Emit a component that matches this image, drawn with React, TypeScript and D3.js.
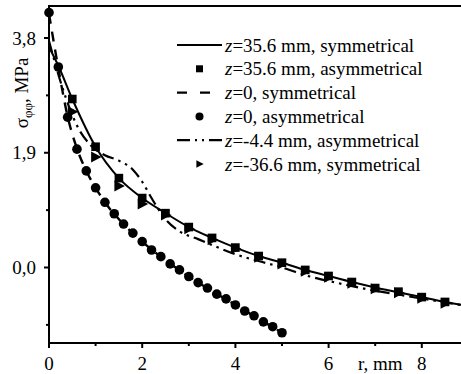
import React from 'react';
import * as d3 from 'd3';

// z=35.6 mm, symmetrical (solid line)
const solidR = [0, 0.2, 0.5, 1.0, 1.5, 2.0, 2.5, 3.0, 3.5, 4.0, 4.5, 5.0, 5.5, 6.0, 6.5, 7.0, 7.5, 8.0, 8.5, 9.0];
const solidS = [3.65, 3.34, 2.79, 2.0, 1.48, 1.15, 0.9, 0.67, 0.49, 0.33, 0.19, 0.08, -0.04, -0.14, -0.24, -0.33, -0.41, -0.49, -0.57, -0.64];

// z=35.6 mm, asymmetrical (squares)
const squareR = [0.5, 1.0, 1.5, 2.0, 2.5, 3.0, 3.5, 4.0, 4.5, 5.0, 5.5, 6.0, 6.5, 7.0, 7.5, 8.0, 8.5];
const squareS = [2.79, 2.0, 1.48, 1.15, 0.9, 0.67, 0.49, 0.33, 0.19, 0.08, -0.04, -0.14, -0.24, -0.34, -0.4, -0.49, -0.57];

// z=0, symmetrical (dashed line)
const dashR = [0, 0.2, 0.4, 0.6, 0.8, 1.0, 1.2, 1.5, 2.0, 2.5, 3.0, 3.5, 4.0, 4.5, 5.0];
const dashS = [4.2, 3.3, 2.5, 1.97, 1.6, 1.32, 1.08, 0.8, 0.43, 0.12, -0.15, -0.39, -0.62, -0.85, -1.08];

// z=0, asymmetrical (circles)
const circleR = [0, 0.2, 0.4, 0.6, 0.8, 1.0, 1.2, 1.4, 1.6, 1.8, 2.0, 2.2, 2.4, 2.6, 2.8, 3.0, 3.2, 3.4, 3.6, 3.8, 4.0, 4.2, 4.4, 4.6, 4.8, 5.0];
const circleS = [4.22, 3.32, 2.49, 1.96, 1.6, 1.32, 1.08, 0.89, 0.72, 0.57, 0.43, 0.29, 0.18, 0.06, -0.04, -0.15, -0.25, -0.34, -0.44, -0.52, -0.62, -0.72, -0.8, -0.9, -0.98, -1.08];

// z=-4.4 mm, asymmetrical (dash-dot line)
const dotDashR = [0, 0.3, 0.6, 0.9, 1.2, 1.5, 1.8, 2.0, 2.2, 2.5, 2.8, 3.2, 4.0, 5.0, 5.6, 6.1, 6.9, 7.5, 8.2, 9.0];
const dotDashS = [3.75, 2.95, 2.35, 2.02, 1.86, 1.77, 1.62, 1.42, 1.15, 0.8, 0.6, 0.47, 0.22, 0.0, -0.15, -0.24, -0.37, -0.45, -0.54, -0.64];

// z=-36.6 mm, symmetrical (triangles)
const triR = [0.5, 1.0, 1.5, 2.0, 2.5, 3.0, 3.5, 4.0, 4.5, 5.0, 5.5, 6.0, 6.5, 7.0, 7.5, 8.0, 8.5];
const triS = [2.58, 1.83, 1.35, 1.05, 0.87, 0.64, 0.46, 0.31, 0.17, 0.06, -0.06, -0.16, -0.26, -0.35, -0.42, -0.51, -0.59];

const yMajor = [0, 1.9, 3.8];
const yMinor = [-0.95, 0.95, 2.85];
const xMajor = [0, 2, 4, 6, 8];
const xMinor = [1, 3, 5, 7];

const legendLabels = [
  ['=35.6 mm, symmetrical', 'solid'],
  ['=35.6 mm, asymmetrical', 'square'],
  ['=0, symmetrical', 'dash'],
  ['=0, asymmetrical', 'circle'],
  ['=-4.4 mm, asymmetrical', 'dotdash'],
  ['=-36.6 mm, symmetrical', 'tri'],
];

const W = 461;
const H = 374;
const left = 49;
const top = 6;
const bottom = 343;
const tStyle = { fontFamily: 'Tinos, Liberation Serif, FreeSerif, serif' };

const x = d3.scaleLinear().domain([0, 9]).range([left, left + 9 * 46.6]);
const y = d3.scaleLinear().domain([-1.25, 4.33]).range([bottom, top]);

const zip = (rs: number[], ss: number[]) => rs.map((r, i) => [r, ss[i]] as [number, number]);

const lineGen = d3.line<[number, number]>()
  .x(d => x(d[0]))
  .y(d => y(d[1]))
  .curve(d3.curveMonotoneX);

const fmt = (v: number) => v.toFixed(1).replace('.', ',');

const triPath = (cx: number, cy: number, s: number) =>
  `M${cx - s * 0.45},${cy - s * 0.55}L${cx + s * 0.6},${cy}L${cx - s * 0.45},${cy + s * 0.55}Z`;

export default function App() {
  const legX = 177;
  const legY0 = 45;
  const legStep = 23.8;

  return (
    <svg width={W} height={H} style={{ position: 'absolute', left: 0, top: 0, background: '#fff' }}>
      <defs>
        <clipPath id="plot">
          <rect x={left} y={top} width={W - left} height={bottom - top} />
        </clipPath>
      </defs>

      <g clipPath="url(#plot)" fill="none" stroke="#000">
        <path d={lineGen(zip(dashR, dashS)) || ''} strokeWidth={2.4} strokeDasharray="10,8" />
        <path d={lineGen(zip(dotDashR, dotDashS)) || ''} strokeWidth={2.2} strokeDasharray="12,5,2.5,5,2.5,5" />
        <path d={lineGen(zip(solidR, solidS)) || ''} strokeWidth={2} />
      </g>

      <g fill="#000">
        {zip(circleR, circleS).map((d, i) => (
          <circle key={'c' + i} cx={x(d[0])} cy={y(d[1])} r={4.8} />
        ))}
        {zip(squareR, squareS).map((d, i) => (
          <rect key={'s' + i} x={x(d[0]) - 4.3} y={y(d[1]) - 4.3} width={8.6} height={8.6} />
        ))}
        {zip(triR, triS).map((d, i) => (
          <path key={'t' + i} d={triPath(x(d[0]), y(d[1]), 10)} />
        ))}
      </g>

      {/* frame */}
      <g stroke="#000" strokeWidth={2}>
        <line x1={left} x2={left} y1={top - 1} y2={bottom + 1} />
        <line x1={left} x2={W} y1={top} y2={top} />
        <line x1={left - 1} x2={W} y1={bottom} y2={bottom} />
        {yMajor.map(v => <line key={'ym' + v} x1={left - 5} x2={left} y1={y(v)} y2={y(v)} />)}
        {yMinor.map(v => <line key={'yn' + v} x1={left - 3} x2={left} y1={y(v)} y2={y(v)} />)}
        {xMajor.map(v => <line key={'xm' + v} x1={x(v)} x2={x(v)} y1={bottom} y2={bottom + 5} />)}
        {xMinor.map(v => <line key={'xn' + v} x1={x(v)} x2={x(v)} y1={bottom} y2={bottom + 3} />)}
      </g>

      {yMajor.map(v => (
        <text key={'yl' + v} x={left - 13} y={y(v) + 6.5} textAnchor="end" fontSize={19} style={tStyle}>{fmt(v)}</text>
      ))}
      {xMajor.map(v => (
        <text key={'xl' + v} x={x(v)} y={370} textAnchor="middle" fontSize={19} style={tStyle}>{v}</text>
      ))}
      <text x={358} y={370} fontSize={19} style={tStyle}>r, mm</text>
      <text transform="translate(28,93) rotate(-90)" textAnchor="middle" fontSize={19} style={tStyle}>
        σ<tspan fontSize={13} dy={4}>φφ</tspan><tspan dy={-4}>, MPa</tspan>
      </text>

      {/* legend */}
      {legendLabels.map(([label, kind], i) => {
        const cy = legY0 + i * legStep;
        const mid = legX + 22.5;
        let sym: React.ReactNode = null;
        if (kind === 'solid') sym = <line x1={legX} x2={legX + 45} y1={cy} y2={cy} stroke="#000" strokeWidth={2} />;
        if (kind === 'dash') sym = <line x1={legX} x2={legX + 45} y1={cy} y2={cy} stroke="#000" strokeWidth={2.4} strokeDasharray="10,13" />;
        if (kind === 'dotdash') sym = <line x1={legX} x2={legX + 45} y1={cy} y2={cy} stroke="#000" strokeWidth={2.2} strokeDasharray="13,5,2,5,2,5" />;
        if (kind === 'square') sym = <rect x={mid - 3.5} y={cy - 3.5} width={7} height={7} fill="#000" />;
        if (kind === 'circle') sym = <circle cx={mid} cy={cy} r={4} fill="#000" />;
        if (kind === 'tri') sym = <path d={triPath(mid, cy, 7)} fill="#000" />;
        return (
          <g key={'lg' + i}>
            {sym}
            <text x={225} y={cy + 6.5} fontSize={19} style={tStyle}>
              <tspan fontStyle="italic">z</tspan>{label}
            </text>
          </g>
        );
      })}
    </svg>
  );
}
